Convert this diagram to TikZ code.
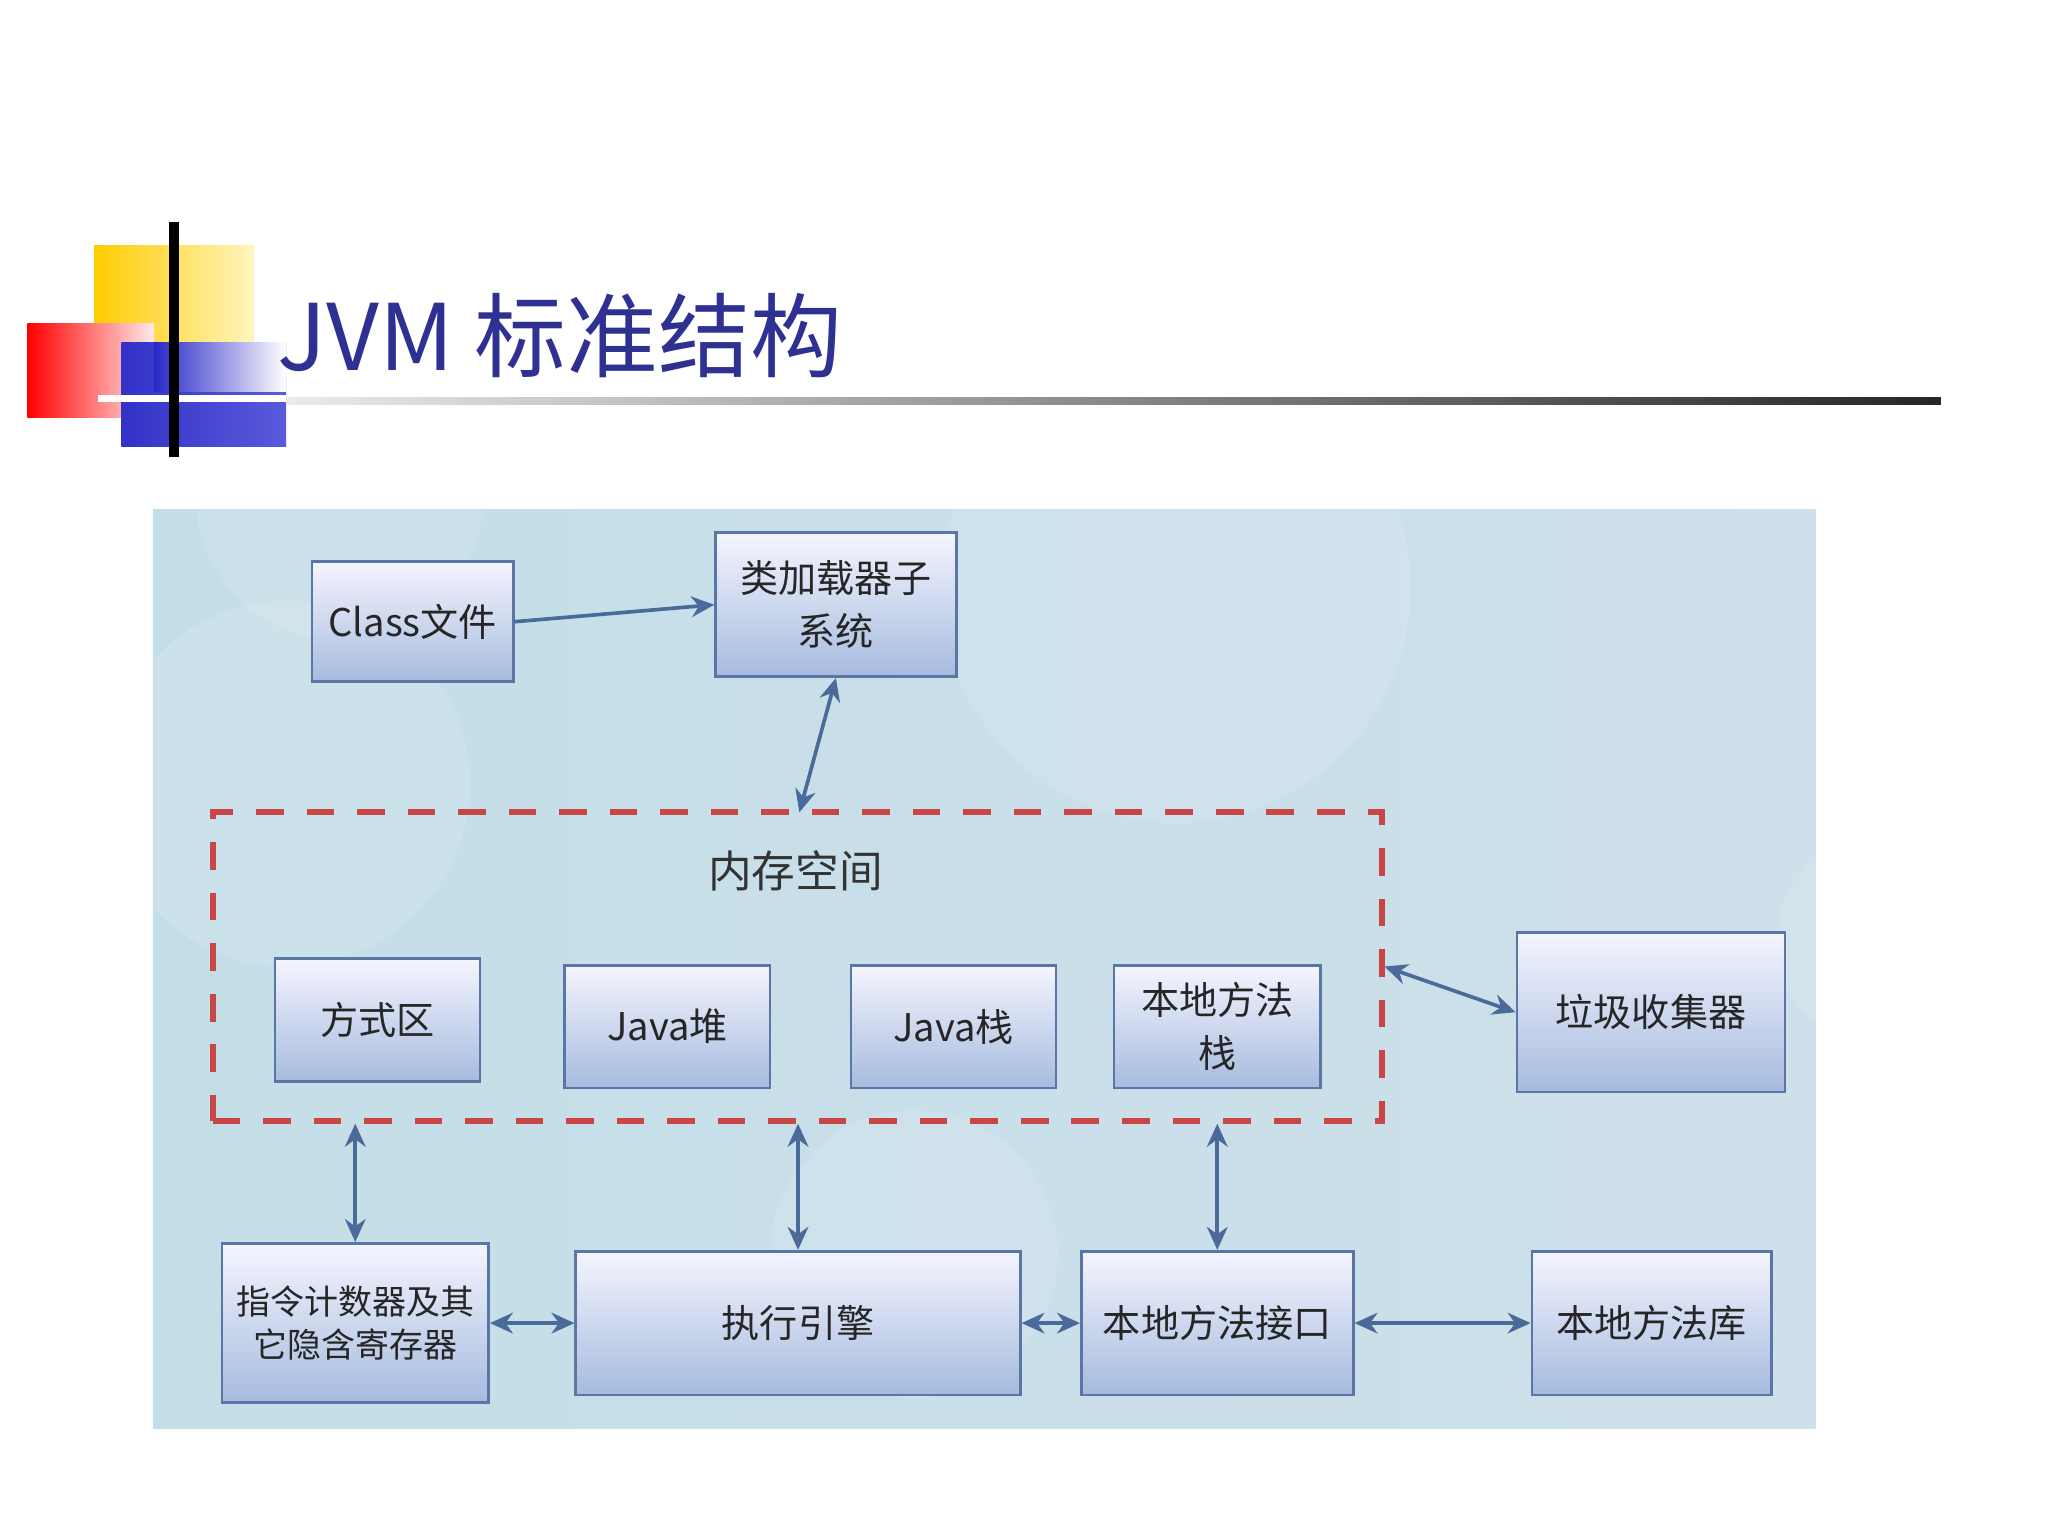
\documentclass[tikz,border=0pt]{standalone}
\usepackage{fontspec}
\setmainfont{Noto Sans CJK SC}
\usetikzlibrary{arrows.meta}
\definecolor{bord}{HTML}{5A76A6}
\definecolor{arr}{HTML}{4A6A9A}
\definecolor{ttl}{HTML}{2E3192}
\tikzset{
 box/.style={draw=bord,line width=0.6pt,top color=blue!4!white,bottom color={rgb,255:red,166;green,187;blue,222},inner sep=1pt,align=center,font=\fontsize{8.3}{11.5}\selectfont,text=black!85},
 con/.style={draw=arr,line width=0.8pt,{Stealth[length=5pt,width=4.5pt]}-{Stealth[length=5pt,width=4.5pt]}},
}
\begin{document}
\begin{tikzpicture}[x=0.01cm,y=-0.01cm]
\useasboundingbox (0,0) rectangle (1568,1176);
% logo
\shade[left color={rgb,255:red,255;green,204;blue,0},right color={rgb,255:red,255;green,245;blue,190}] (72,188) rectangle (194,262);
\shade[left color=red,right color=red!8!white] (21,248) rectangle (118,320);
\shade[left color={rgb,255:red,50;green,50;blue,200},right color={rgb,255:red,90;green,90;blue,220}] (93,262) rectangle (219,342);
\shade[left color={rgb,255:red,40;green,40;blue,200},right color=white] (118,262) rectangle (219,300);
\draw[white,line width=1.5pt] (75,305) -- (219,305);
\draw[black,line width=2.2pt] (133,170) -- (133,350);
\shade[left color=black!8,right color=black!85] (219,304) rectangle (1486,310);
\node[anchor=west,text=ttl,font=\fontsize{20}{24}\selectfont,inner sep=0] (title) at (212,257) {JVM 标准结构};
% panel
\begin{scope}
\clip (117,390) rectangle (1390,1094);
\shade[left color={rgb,255:red,196;green,222;blue,232},right color={rgb,255:red,206;green,224;blue,234}] (117,390) rectangle (1390,1094);
\fill[white,opacity=0.12] (220,600) circle (140);
\fill[white,opacity=0.12] (700,960) circle (110);
\fill[white,opacity=0.10] (260,380) circle (110);
\fill[white,opacity=0.10] (1440,720) circle (80);
\fill[white,opacity=0.10] (900,450) circle (180);
\end{scope}
% boxes
\node[box,minimum width=1.54cm,minimum height=0.92cm] (cls) at (316,476) {Class文件};
\node[box,minimum width=1.84cm,minimum height=1.10cm] (ldr) at (640,463) {类加载器子\\系统};
\node[draw={rgb,255:red,200;green,70;blue,70},dash pattern=on 6pt off 5pt,line width=1.3pt,minimum width=8.95cm,minimum height=2.36cm] (mem) at (610.5,740) {};
\node[font=\fontsize{9.5}{12}\selectfont,text=black!80] (memt) at (609,667) {内存空间};
\node[box,minimum width=1.57cm,minimum height=0.94cm] (fsq) at (289,781) {方式区};
\node[box,minimum width=1.57cm,minimum height=0.94cm] (heap) at (511,786) {Java堆};
\node[box,minimum width=1.57cm,minimum height=0.94cm] (stk) at (730,786) {Java栈};
\node[box,minimum width=1.58cm,minimum height=0.94cm] (nstk) at (932,786) {本地方法\\栈};
\node[box,minimum width=2.05cm,minimum height=1.22cm] (gc) at (1264,775) {垃圾收集器};
\node[box,minimum width=2.04cm,minimum height=1.22cm,text width=1.95cm,font=\fontsize{7.4}{9.5}\selectfont] (pc) at (272,1013) {指令计数器及其\\它隐含寄存器};
\node[box,minimum width=3.40cm,minimum height=1.10cm] (exe) at (611,1013) {执行引擎};
\node[box,minimum width=2.08cm,minimum height=1.10cm] (nif) at (932,1013) {本地方法接口};
\node[box,minimum width=1.83cm,minimum height=1.10cm] (nlib) at (1264.5,1013) {本地方法库};
% connectors
\draw[draw=arr,line width=0.8pt,-{Stealth[length=5pt,width=4.5pt]}] (cls.east) -- (ldr.west);
\coordinate (mt) at (612,622);
\draw[con] (ldr.south) -- (mt);
\coordinate (mr) at (1060,740);
\draw[con] (mr) -- (gc.west);
\draw[con] (mem.south -| pc.north) -- (pc.north);
\draw[con] (mem.south -| exe.north) -- (exe.north);
\draw[con] (mem.south -| nif.north) -- (nif.north);
\draw[con] (pc.east) -- (exe.west);
\draw[con] (exe.east) -- (nif.west);
\draw[con] (nif.east) -- (nlib.west);
\end{tikzpicture}
\end{document}
